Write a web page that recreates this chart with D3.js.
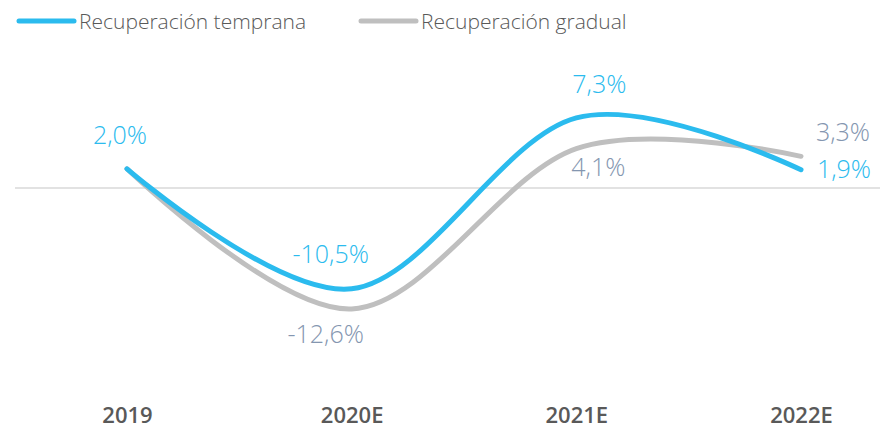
<!DOCTYPE html>
<html>
<head>
<meta charset="utf-8">
<style>
  body { margin: 0; background: #fff; }
  text { font-family: "Open Sans", sans-serif; }
</style>
</head>
<body>
<div id="viz_area"></div>
<script src="https://d3js.org/d3.v7.min.js"></script>
<script>
    // data
    var years = ["2019", "2020E", "2021E", "2022E"];
    var temprana = [2.0, -10.5, 7.3, 1.9];
    var gradual = [2.0, -12.6, 4.1, 3.3];
    var labelsTemprana = ["2,0%", "-10,5%", "7,3%", "1,9%"];
    var labelsGradual = [null, "-12,6%", "4,1%", "3,3%"];

    var width = 894, height = 430;
    var blue = "#2bbbee", grey = "#bfbfbf", blueText = "#2bbbee", greyText = "#8496b0";

    var svg = d3.select("#viz_area")
        .append("svg")
        .attr("width", width)
        .attr("height", height);

    // scales
    var x = d3.scalePoint()
        .domain(years)
        .range([127, 801]);

    var y = d3.scaleLinear()
        .domain([0, 10])
        .range([188, 92]);

    // zero line
    svg.append("line")
        .attr("x1", 15).attr("x2", 880)
        .attr("y1", y(0)).attr("y2", y(0))
        .attr("stroke", "#d9d9d9").attr("stroke-width", 1.5);

    var line = d3.line()
        .x(function(d, i) { return x(years[i]); })
        .y(function(d) { return y(d); })
        .curve(d3.curveCardinal.tension(0));

    svg.append("path")
        .datum(gradual)
        .attr("d", line)
        .attr("fill", "none")
        .attr("stroke", grey)
        .attr("stroke-width", 5)
        .attr("stroke-linecap", "round");

    svg.append("path")
        .datum(temprana)
        .attr("d", line)
        .attr("fill", "none")
        .attr("stroke", blue)
        .attr("stroke-width", 5)
        .attr("stroke-linecap", "round");

    // label offsets (dx, dy of the text baseline from the point)
    var offT = [[-7, -25], [-21, -26], [23, -25], [43, 8]];
    var offG = [null, [-26, 34], [22, 27], [42, -15]];

    function addLabels(vals, labels, offs, color) {
        vals.forEach(function(v, i) {
            if (!labels[i]) return;
            svg.append("text")
                .attr("x", x(years[i]) + offs[i][0])
                .attr("y", y(v) + offs[i][1])
                .attr("text-anchor", "middle")
                .attr("fill", color)
                .style("font-size", "25px")
                .style("font-weight", 300)
                .text(labels[i]);
        });
    }
    addLabels(temprana, labelsTemprana, offT, blueText);
    addLabels(gradual, labelsGradual, offG, greyText);

    // x axis labels
    var xAxis = svg.append("g")
        .attr("transform", "translate(0,423)")
        .call(d3.axisBottom(x).tickSize(0).tickPadding(0));
    xAxis.select(".domain").remove();
    xAxis.selectAll("text")
        .attr("dy", 0)
        .attr("fill", "#595959")
        .style("font-family", "'Open Sans', sans-serif")
        .style("font-size", "22px")
        .style("font-weight", 600);

    // legend
    var legend = [
        {name: "Recuperación temprana", color: blue, x: 19},
        {name: "Recuperación gradual", color: grey, x: 361}
    ];
    legend.forEach(function(d) {
        svg.append("line")
            .attr("x1", d.x).attr("x2", d.x + 55)
            .attr("y1", 21).attr("y2", 21)
            .attr("stroke", d.color).attr("stroke-width", 5)
            .attr("stroke-linecap", "round");
        svg.append("text")
            .attr("x", d.x + 60)
            .attr("y", 29)
            .attr("fill", "#595959")
            .style("font-size", "21px")
            .style("font-weight", 300)
            .text(d.name);
    });
</script>
</body>
</html>
